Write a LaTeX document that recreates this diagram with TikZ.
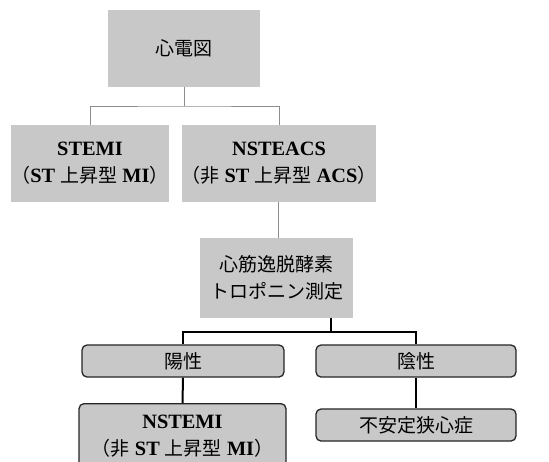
\documentclass[tikz,border=0pt]{standalone}
\usepackage{fontspec}
\setmainfont[Scale=1.07]{Liberation Serif}
\newfontfamily\jp{Noto Sans CJK JP}
\definecolor{boxgray}{HTML}{C8C8C8}
\definecolor{linegray}{HTML}{8C8C8C}
\begin{document}
\begin{tikzpicture}[x=1pt,y=1pt,
  flat/.style={fill=boxgray, draw=none, align=center, inner sep=0pt, font=\fontsize{19}{27}\selectfont},
  roundbox/.style={fill=boxgray, draw=black!85, line width=1.3pt, rounded corners=5pt, align=center, inner sep=0pt, font=\fontsize{19}{27}\selectfont},
  thin/.style={draw=linegray, line width=1pt},
  thick/.style={draw=black, line width=2pt}]
\useasboundingbox (0,0) rectangle (549,-461);
\clip (0,0) rectangle (549,-461);
\fill[white] (0,0) rectangle (549,-461);
% nodes
\node[flat, minimum width=152, minimum height=77] (ecg) at (184,-48.5) {\jp 心電図};
\node[flat, minimum width=152, minimum height=77] (stemi) at (90,-163.5)
  {\textbf{STEMI}\\{\jp （}\textbf{ST }{\jp 上昇型}\textbf{ MI}{\jp ）}};
\node[flat, minimum width=178, minimum height=77] (nsteacs) at (279,-163.5)
  {\textbf{NSTEACS}\\{\jp （非}\textbf{ ST }{\jp 上昇型}\textbf{ ACS}{\jp ）}};
\node[flat, minimum width=153, minimum height=80] (trop) at (276.5,-278)
  {\jp 心筋逸脱酵素\\\jp トロポニン測定};
\node[roundbox, minimum width=202, minimum height=32] (pos) at (183,-361) {\jp 陽性};
\node[roundbox, minimum width=200, minimum height=32] (neg) at (416,-361) {\jp 陰性};
\node[roundbox, minimum width=207, minimum height=66, anchor=north] (nstemi) at (182.5,-403)
  {\textbf{NSTEMI}\\{\jp （非}\textbf{ ST }{\jp 上昇型}\textbf{ MI}{\jp ）}};
\node[roundbox, minimum width=200, minimum height=32] (ua) at (416,-425) {\jp 不安定狭心症};
% connectors
\coordinate (j1) at (184,-106);
\draw[thin] (ecg.south) -- (j1);
\draw[thin] (stemi.north) |- (j1) -| (nsteacs.north -| 279,0);
\draw[thin] (nsteacs.south -| 278,0) -- (trop.north -| 278,0);
\coordinate (t1) at (331,-318);
\coordinate (j2) at (331,-332);
\draw[thick] (t1) -- (j2);
\draw[thick] (pos.north) |- (j2) -| (neg.north);
\draw[thick] (pos.south) -- (nstemi.north);
\draw[thick] (neg.south) -- (ua.north);
\end{tikzpicture}
\end{document}
